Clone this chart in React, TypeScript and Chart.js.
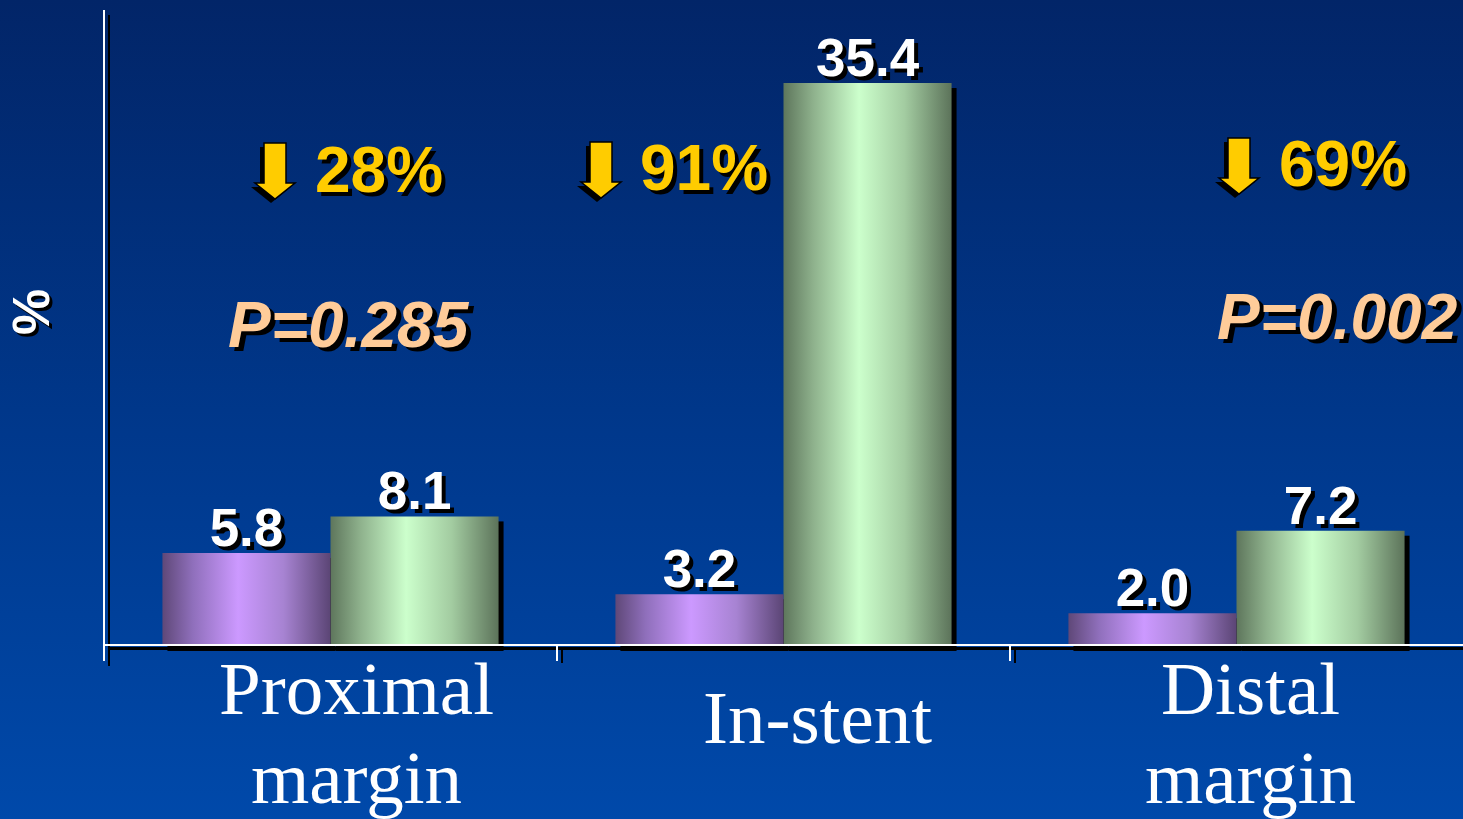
import { useEffect, useRef } from "react";
import { Chart, registerables } from "chart.js";

Chart.register(...registerables);

// Segment categories (multi-line labels)
const categories: string[][] = [["Proximal", "margin"], ["In-stent"], ["Distal", "margin"]];
// Series values (%)
const seriesA: number[] = [5.8, 3.2, 2.0];
const seriesB: number[] = [8.1, 35.4, 7.2];
// Annotations per category
const reductions: string[] = ["28%", "91%", "69%"];
const pValues: string[] = ["P=0.285", "", "P=0.002"];
const yTitle = "%";
const yMin = 0;
const yMax = 40;

// Placement of the free-floating annotations (pixels)
const arrowX = [275, 601, 1239];
const arrowTop = [143, 142, 138];
const reductionTextX = [315, 640, 1279];
const reductionBaseline = [192, 190, 186];
const pTextX = [228, 0, 1217];
const pBaseline = [347, 0, 339];
const catLabelShift = [26, 34, 14];

const W = 1463;
const H = 819;

function barGradient(ctx: CanvasRenderingContext2D, left: number, width: number, stops: [number, string][]) {
  const g = ctx.createLinearGradient(left, 0, left + width, 0);
  stops.forEach(([o, c]) => g.addColorStop(o, c));
  return g;
}

const purpleStops: [number, string][] = [
  [0, "#5f4878"],
  [0.18, "#8f6fbb"],
  [0.45, "#cc99ff"],
  [0.72, "#a783d2"],
  [1, "#5b4575"],
];
const greenStops: [number, string][] = [
  [0, "#5e765c"],
  [0.18, "#8fb28d"],
  [0.45, "#ccffcc"],
  [0.72, "#a3cca1"],
  [1, "#5c735a"],
];

function shadowText(ctx: CanvasRenderingContext2D, text: string, x: number, y: number, color: string, dx = 4, dy = 4) {
  ctx.fillStyle = "#000000";
  ctx.fillText(text, x + dx, y + dy);
  ctx.fillStyle = color;
  ctx.fillText(text, x, y);
}

function drawArrow(ctx: CanvasRenderingContext2D, cx: number, top: number) {
  const shaftHalf = 11;
  const headHalf = 20;
  const shaftLen = 40;
  const headLen = 16;
  const path = (ox: number, oy: number) => {
    ctx.beginPath();
    ctx.moveTo(cx - shaftHalf + ox, top + oy);
    ctx.lineTo(cx + shaftHalf + ox, top + oy);
    ctx.lineTo(cx + shaftHalf + ox, top + shaftLen + oy);
    ctx.lineTo(cx + headHalf + ox, top + shaftLen + oy);
    ctx.lineTo(cx + ox, top + shaftLen + headLen + oy);
    ctx.lineTo(cx - headHalf + ox, top + shaftLen + oy);
    ctx.lineTo(cx - shaftHalf + ox, top + shaftLen + oy);
    ctx.closePath();
  };
  path(-4, 4);
  ctx.fillStyle = "#000000";
  ctx.fill();
  path(0, 0);
  ctx.fillStyle = "#ffcc00";
  ctx.fill();
  ctx.lineWidth = 1.5;
  ctx.strokeStyle = "#000000";
  ctx.stroke();
}

const slidePlugin = {
  id: "slideDecor",
  beforeDraw(chart: Chart) {
    const ctx = chart.ctx;
    const g = ctx.createLinearGradient(0, 0, 0, H);
    g.addColorStop(0, "#022568");
    g.addColorStop(0.5, "#00378a");
    g.addColorStop(1, "#0049aa");
    ctx.save();
    ctx.fillStyle = g;
    ctx.fillRect(0, 0, W, H);
    ctx.restore();
  },
  beforeDatasetsDraw(chart: Chart) {
    const ctx = chart.ctx;
    ctx.save();
    ctx.fillStyle = "#000000";
    chart.data.datasets.forEach((_, di) => {
      chart.getDatasetMeta(di).data.forEach((el: any) => {
        const p = el.getProps(["x", "y", "base", "width"], true);
        ctx.fillRect(p.x - p.width / 2 + 5, p.y + 5, p.width, p.base - p.y + 1);
      });
    });
    ctx.restore();
  },
  afterDatasetsDraw(chart: Chart) {
    const ctx = chart.ctx;
    const area = chart.chartArea;
    const xs = chart.scales.x;
    ctx.save();

    // axes with drop shadows
    const catW = (area.right - area.left) / categories.length;
    ctx.fillStyle = "#000000";
    ctx.fillRect(area.left + 4, area.top + 5, 2, area.bottom - area.top + 16);
    ctx.fillRect(area.left + 4, area.bottom + 2, W - area.left, 3);
    for (let i = 1; i < categories.length; i++) {
      const tx = area.left + i * catW;
      ctx.fillRect(tx + 4, area.bottom + 4, 2, 14);
    }
    ctx.fillStyle = "#ffffff";
    ctx.fillRect(area.left - 1, area.top, 2, area.bottom - area.top + 16);
    ctx.fillRect(area.left - 1, area.bottom - 1, W - area.left + 1, 2);
    for (let i = 1; i < categories.length; i++) {
      const tx = area.left + i * catW;
      ctx.fillRect(tx - 1, area.bottom, 2, 16);
    }

    // value labels above bars
    ctx.font = "bold 53px 'Liberation Sans', Arial, sans-serif";
    ctx.textAlign = "center";
    ctx.textBaseline = "alphabetic";
    chart.data.datasets.forEach((ds, di) => {
      chart.getDatasetMeta(di).data.forEach((el: any, i: number) => {
        const p = el.getProps(["x", "y"], true);
        const v = (ds.data[i] as number).toFixed(1);
        shadowText(ctx, v, p.x, p.y - 7, "#ffffff", 4, 4);
      });
    });

    // category labels
    ctx.font = "75px 'Liberation Serif', 'Times New Roman', serif";
    ctx.textAlign = "center";
    categories.forEach((lines, i) => {
      const cx = xs.getPixelForValue(i) + catLabelShift[i];
      ctx.fillStyle = "#ffffff";
      if (lines.length === 1) {
        ctx.fillText(lines[0], cx, 743);
      } else {
        lines.forEach((ln, li) => {
          ctx.fillText(ln, cx, 714 + li * 89);
        });
      }
    });

    // reduction annotations
    ctx.textAlign = "left";
    ctx.font = "bold 64px 'Liberation Sans', Arial, sans-serif";
    reductions.forEach((r, i) => {
      drawArrow(ctx, arrowX[i], arrowTop[i]);
      shadowText(ctx, r, reductionTextX[i], reductionBaseline[i], "#ffcc00", 4, 4);
    });

    // p-values
    ctx.font = "italic bold 64px 'Liberation Sans', Arial, sans-serif";
    pValues.forEach((p, i) => {
      if (!p) return;
      shadowText(ctx, p, pTextX[i], pBaseline[i], "#ffcc99", 5, 4);
    });

    // y-axis title
    ctx.save();
    ctx.translate(35, 312);
    ctx.rotate(-Math.PI / 2);
    ctx.textAlign = "center";
    ctx.textBaseline = "middle";
    ctx.font = "bold 52px 'Liberation Sans', Arial, sans-serif";
    shadowText(ctx, yTitle, 0, 0, "#ffffff", -3, 3);
    ctx.restore();

    ctx.restore();
  },
};

export default function App() {
  const canvasRef = useRef<HTMLCanvasElement | null>(null);

  useEffect(() => {
    const canvas = canvasRef.current;
    if (!canvas) return;
    const chart = new Chart(canvas, {
      type: "bar",
      data: {
        labels: categories.map((c) => c.join(" ")),
        datasets: [
          {
            label: "Series A",
            data: seriesA,
            borderWidth: 0,
            backgroundColor: (c: any) => {
              const ch = c.chart;
              const area = ch.chartArea;
              if (!area || c.dataIndex === undefined) return "#cc99ff";
              const catW = (area.right - area.left) / categories.length;
              const pair = catW * 0.742;
              const center = ch.scales.x.getPixelForValue(c.dataIndex);
              return barGradient(ch.ctx, center - pair / 2, pair / 2, purpleStops);
            },
          },
          {
            label: "Series B",
            data: seriesB,
            borderWidth: 0,
            backgroundColor: (c: any) => {
              const ch = c.chart;
              const area = ch.chartArea;
              if (!area || c.dataIndex === undefined) return "#ccffcc";
              const catW = (area.right - area.left) / categories.length;
              const pair = catW * 0.742;
              const center = ch.scales.x.getPixelForValue(c.dataIndex);
              return barGradient(ch.ctx, center, pair / 2, greenStops);
            },
          },
        ],
      },
      options: {
        responsive: false,
        animation: false,
        devicePixelRatio: 1,
        layout: { padding: { left: 104, top: 10, right: 0, bottom: 174 } },
        datasets: { bar: { categoryPercentage: 0.742, barPercentage: 1 } },
        plugins: {
          legend: { display: false },
          tooltip: { enabled: false },
          title: { display: false },
        },
        scales: {
          x: { display: false, grid: { display: false } },
          y: { display: false, min: yMin, max: yMax, grid: { display: false } },
        },
      },
      plugins: [slidePlugin],
    });
    return () => chart.destroy();
  }, []);

  return (
    <div style={{ position: "absolute", left: 0, top: 0, width: W, height: H, overflow: "hidden" }}>
      <canvas ref={canvasRef} width={W} height={H} style={{ display: "block", width: W, height: H }} />
    </div>
  );
}
